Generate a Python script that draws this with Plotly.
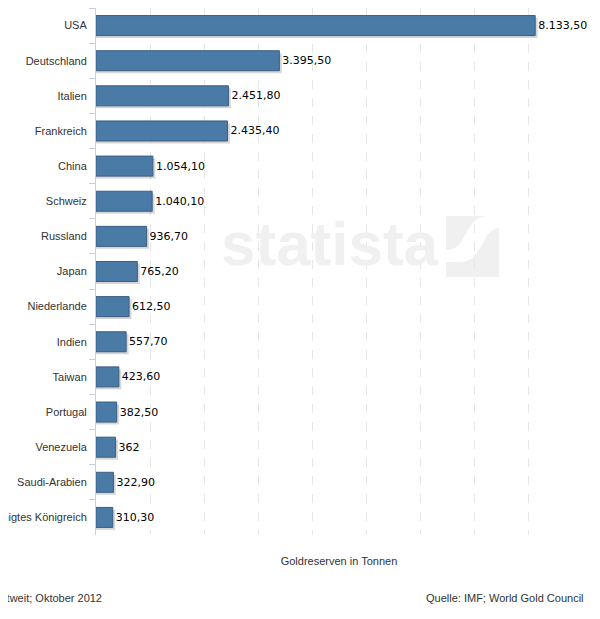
import plotly.graph_objects as go

countries = ["USA", "Deutschland", "Italien", "Frankreich", "China", "Schweiz", "Russland",
             "Japan", "Niederlande", "Indien", "Taiwan", "Portugal", "Venezuela",
             "Saudi-Arabien", "Vereinigtes Königreich"]
values = [8133.5, 3395.5, 2451.8, 2435.4, 1054.1, 1040.1, 936.7,
          765.2, 612.5, 557.7, 423.6, 382.5, 362, 322.9, 310.3]


def de_fmt(v):
    if float(v).is_integer():
        s = f"{int(v):,}"
        return s.replace(",", ".")
    s = f"{v:,.2f}"
    return s.replace(",", "X").replace(".", ",").replace("X", ".")


labels = [de_fmt(v) for v in values]

# the page body adds an 8px offset; positions below are in screen pixels
OFF = 8
W, H = 600, 619
ML, MR, MT, MB = 96 - OFF, 26, 8 - OFF, 92
pw = W - ML - MR
ph = H - MT - MB


def px_x(sx):
    return (sx - OFF - ML) / pw


def px_y(sy):
    return 1 - (sy - OFF - MT) / ph


bar_w = 0.57
fig = go.Figure()
# shadow
fig.add_trace(go.Bar(
    y=countries, x=[v + 45 for v in values], orientation="h",
    width=bar_w, offset=-bar_w / 2 + 0.07,
    marker=dict(color="rgba(0,0,0,0.16)", line=dict(width=0)),
    hoverinfo="skip", showlegend=False,
))
fig.add_trace(go.Bar(
    y=countries, x=values, orientation="h",
    width=bar_w, offset=-bar_w / 2,
    marker=dict(color="#4a7aa6", line=dict(color="#3b5f84", width=1)),
    text=labels, textposition="outside", cliponaxis=False,
    textfont=dict(family="DejaVu Sans", size=11, color="#000000"),
    showlegend=False,
))

fig.update_layout(
    width=W, height=H, barmode="overlay",
    margin=dict(l=ML, r=MR, t=MT, b=MB, autoexpand=False),
    paper_bgcolor="white", plot_bgcolor="rgba(0,0,0,0)",
    font=dict(family="Liberation Sans, Arial", size=11, color="#333333"),
    xaxis=dict(
        range=[0, 9000], dtick=1000, showticklabels=False, ticks="",
        showgrid=True, gridcolor="#e6e6e6", griddash="dash", gridwidth=1,
        zeroline=False, showline=False, fixedrange=True,
        title=dict(text="Goldreserven in Tonnen", standoff=22,
                   font=dict(size=11, color="#333333")),
    ),
    yaxis=dict(
        autorange="reversed", type="category", automargin=False,
        showline=True, linecolor="#c3d1e3", linewidth=1,
        ticks="outside", ticklen=6, tickcolor="#c3d1e3", tickson="boundaries",
        ticklabelstandoff=6,
        tickfont=dict(size=11, color="#333333"), showgrid=False,
    ),
)

# watermark
fig.add_annotation(
    xref="paper", yref="paper",
    x=px_x(330), y=px_y(244),
    text="<b>statista</b>", showarrow=False,
    font=dict(family="Liberation Sans Narrow, Liberation Sans", size=62, color="#f0f0f0"),
    xanchor="center", yanchor="middle",
)
fig.add_shape(type="rect", xref="paper", yref="paper",
              x0=px_x(446), x1=px_x(499),
              y0=px_y(277), y1=px_y(216),
              fillcolor="#f0f0f0", line=dict(width=0), layer="below")
fig.add_shape(type="path", xref="paper", yref="paper",
              path=(f"M {px_x(446)},{px_y(262)} L {px_x(462)},{px_y(262)} "
                    f"Q {px_x(472)},{px_y(262)} {px_x(480)},{px_y(248)} "
                    f"L {px_x(488)},{px_y(234)} Q {px_x(494)},{px_y(228)} {px_x(499)},{px_y(228)} "
                    f"L {px_x(499)},{px_y(216)} L {px_x(486)},{px_y(216)} "
                    f"Q {px_x(476)},{px_y(216)} {px_x(468)},{px_y(230)} "
                    f"L {px_x(460)},{px_y(244)} Q {px_x(455)},{px_y(250)} {px_x(446)},{px_y(250)} Z"),
              fillcolor="white", line=dict(width=0), layer="below")

# footer
fig.add_annotation(
    xref="paper", yref="paper", x=px_x(104), y=px_y(598),
    text="Goldreserven weltweit; Oktober 2012", showarrow=False,
    xanchor="right", yanchor="middle", font=dict(size=11, color="#333333"),
)
fig.add_annotation(
    xref="paper", yref="paper", x=px_x(586), y=px_y(598),
    text="Quelle: IMF; World Gold Council", showarrow=False,
    xanchor="right", yanchor="middle", font=dict(size=11, color="#333333"),
)

fig.write_html("out.html")
